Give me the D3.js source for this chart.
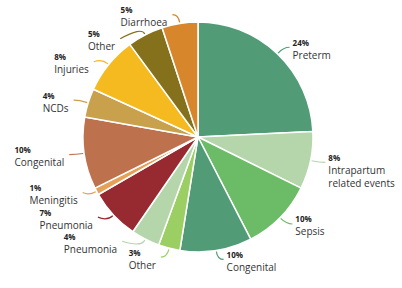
<!DOCTYPE html>
<html>
<head>
<meta charset="utf-8">
<script src="https://cdn.jsdelivr.net/npm/d3@7"></script>
<style>
  body { margin: 0; background: #fff; }
  text { font-family: "Open Sans", sans-serif; }
</style>
</head>
<body>
<div id="chart"></div>
<script>
// causes, clockwise from 12 o'clock
const causes = [
  "Preterm", "Intrapartum\nrelated events", "Sepsis", "Congenital", "Other",
  "Pneumonia", "Pneumonia", "Meningitis", "Congenital", "NCDs",
  "Injuries", "Other", "Diarrhoea"
];
const shares = [24, 8, 10, 10, 3, 4, 7, 1, 10, 4, 8, 5, 5];
const sliceColors = [
  "#519c77", "#b4d6aa", "#6cbb66", "#519c77", "#9ccf63",
  "#b4d6aa", "#962a30", "#e4a157", "#bd714d", "#c9a04c",
  "#f5ba1f", "#85711b", "#d8862c"
];

const width = 402, height = 288;
const cx = 198, cy = 137, radius = 115;

// a few labels are pushed aside to avoid crowding
const labelShift = { 5: [-13, -6], 6: [-3, -4], 7: [0, -3], 10: [-2, 3], 11: [-15, 12] };

const svg = d3.select("#chart")
  .append("svg")
  .attr("width", width)
  .attr("height", height);

const g = svg.append("g").attr("transform", `translate(${cx},${cy})`);

const pie = d3.pie().sort(null).value((d) => d.value);
const arc = d3.arc().innerRadius(0).outerRadius(radius);

const data = shares.map((v, i) => ({ name: causes[i], value: v, color: sliceColors[i] }));
const arcs = pie(data);

g.selectAll("path.slice")
  .data(arcs)
  .enter()
  .append("path")
  .attr("class", "slice")
  .attr("d", arc)
  .attr("fill", (d) => d.data.color)
  .attr("stroke", "#fff")
  .attr("stroke-width", 1.5)
  .attr("stroke-linejoin", "round");

// point on a circle of radius r at pie angle a (0 = top, clockwise)
const at = (a, r) => [Math.sin(a) * r, -Math.cos(a) * r];

arcs.forEach((d, i) => {
  const mid = (d.startAngle + d.endAngle) / 2;
  const right = Math.sin(mid) >= 0;
  const A = at(mid, radius + 1);
  const B = at(mid, radius + 9);
  let C = [B[0] + (right ? 6 : -6), B[1]];
  const shift = labelShift[i];
  if (shift) C = [C[0] + shift[0], C[1] + shift[1]];

  g.append("path")
    .attr("d", `M${A[0]},${A[1]}Q${B[0]},${B[1]} ${C[0]},${C[1]}`)
    .attr("fill", "none")
    .attr("stroke", d.data.color)
    .attr("stroke-width", 1.2);

  const lab = g.append("g");
  lab.append("text")
    .attr("y", C[1] - 1.5)
    .attr("font-size", "8px")
    .attr("font-weight", "bold")
    .attr("fill", "#222")
    .text(d.data.value + "%");
  d.data.name.split("\n").forEach((line, k) => {
    lab.append("text")
      .attr("y", C[1] + 11.5 + k * 13)
      .attr("font-size", "10px")
      .attr("fill", "#333")
      .text(line);
  });

  let w = 0;
  lab.selectAll("text").each(function () {
    w = Math.max(w, this.getComputedTextLength());
  });
  const x = right ? C[0] + 3 : C[0] - 5 - w;
  lab.selectAll("text").attr("x", x);
});
</script>
</body>
</html>
